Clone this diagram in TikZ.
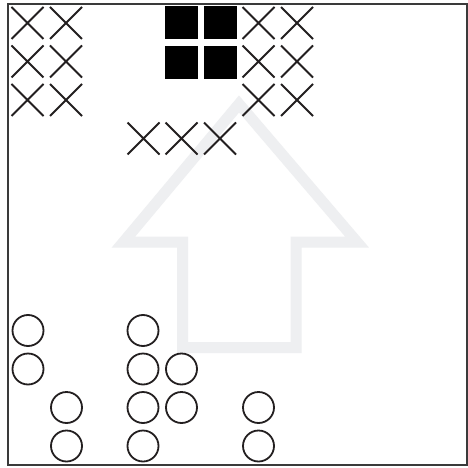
\documentclass[tikz,border=0pt]{standalone}
\usetikzlibrary{shapes.misc}
\definecolor{ink}{HTML}{231F20}
\definecolor{arrowgray}{HTML}{EEEFF1}
\definecolor{framegray}{HTML}{3A3A3A}
\begin{document}
\begin{tikzpicture}[x=1pt,y=-1pt,
  xmark/.style={cross out,draw=ink,line width=1.8pt,minimum size=32pt,inner sep=0pt,outer sep=0pt},
  ring/.style={circle,draw=ink,line width=1.8pt,minimum size=31pt,inner sep=0pt},
  block/.style={rectangle,fill=black,minimum size=33pt,inner sep=0pt}]
\useasboundingbox (0,0) rectangle (468,468);
\fill[white] (0,0) rectangle (468,468);
% big outlined arrow
\draw[arrowgray,line width=11pt,line join=miter,miter limit=10]
  (239,104) -- (357,242) -- (296,242) -- (296,347.5) -- (182.5,347.5) -- (182.5,242) -- (123.5,242) -- cycle;
% frame
\draw[framegray,line width=2pt] (8,4.5) rectangle (467,465);
% crosses left block
\foreach \r/\y in {1/23,2/61.5,3/100}{
  \node[xmark] (xl1\r) at (27.5,\y) {};
  \node[xmark] (xl2\r) at (66,\y) {};
  \node[xmark] (xr1\r) at (258.5,\y) {};
  \node[xmark] (xr2\r) at (297,\y) {};
}
\node[xmark] (xb1) at (143.5,138.5) {};
\node[xmark] (xb2) at (181.5,138.5) {};
\node[xmark] (xb3) at (220,138.5) {};
% black squares
\node[block] (s11) at (181.5,23) {};
\node[block] (s12) at (220.5,23) {};
\node[block] (s21) at (181.5,62.5) {};
\node[block] (s22) at (220.5,62.5) {};
% circles
\node[ring] (ca1) at (28,330.5) {};
\node[ring] (ca2) at (28,369) {};
\node[ring] (cb3) at (66.5,407.5) {};
\node[ring] (cb4) at (66.5,446) {};
\node[ring] (cc1) at (143,330.5) {};
\node[ring] (cc2) at (143,369) {};
\node[ring] (cc3) at (143,407.5) {};
\node[ring] (cc4) at (143,446) {};
\node[ring] (cd2) at (181.5,369) {};
\node[ring] (cd3) at (181.5,407.5) {};
\node[ring] (ce3) at (258.5,407.5) {};
\node[ring] (ce4) at (258.5,446) {};
\end{tikzpicture}
\end{document}
